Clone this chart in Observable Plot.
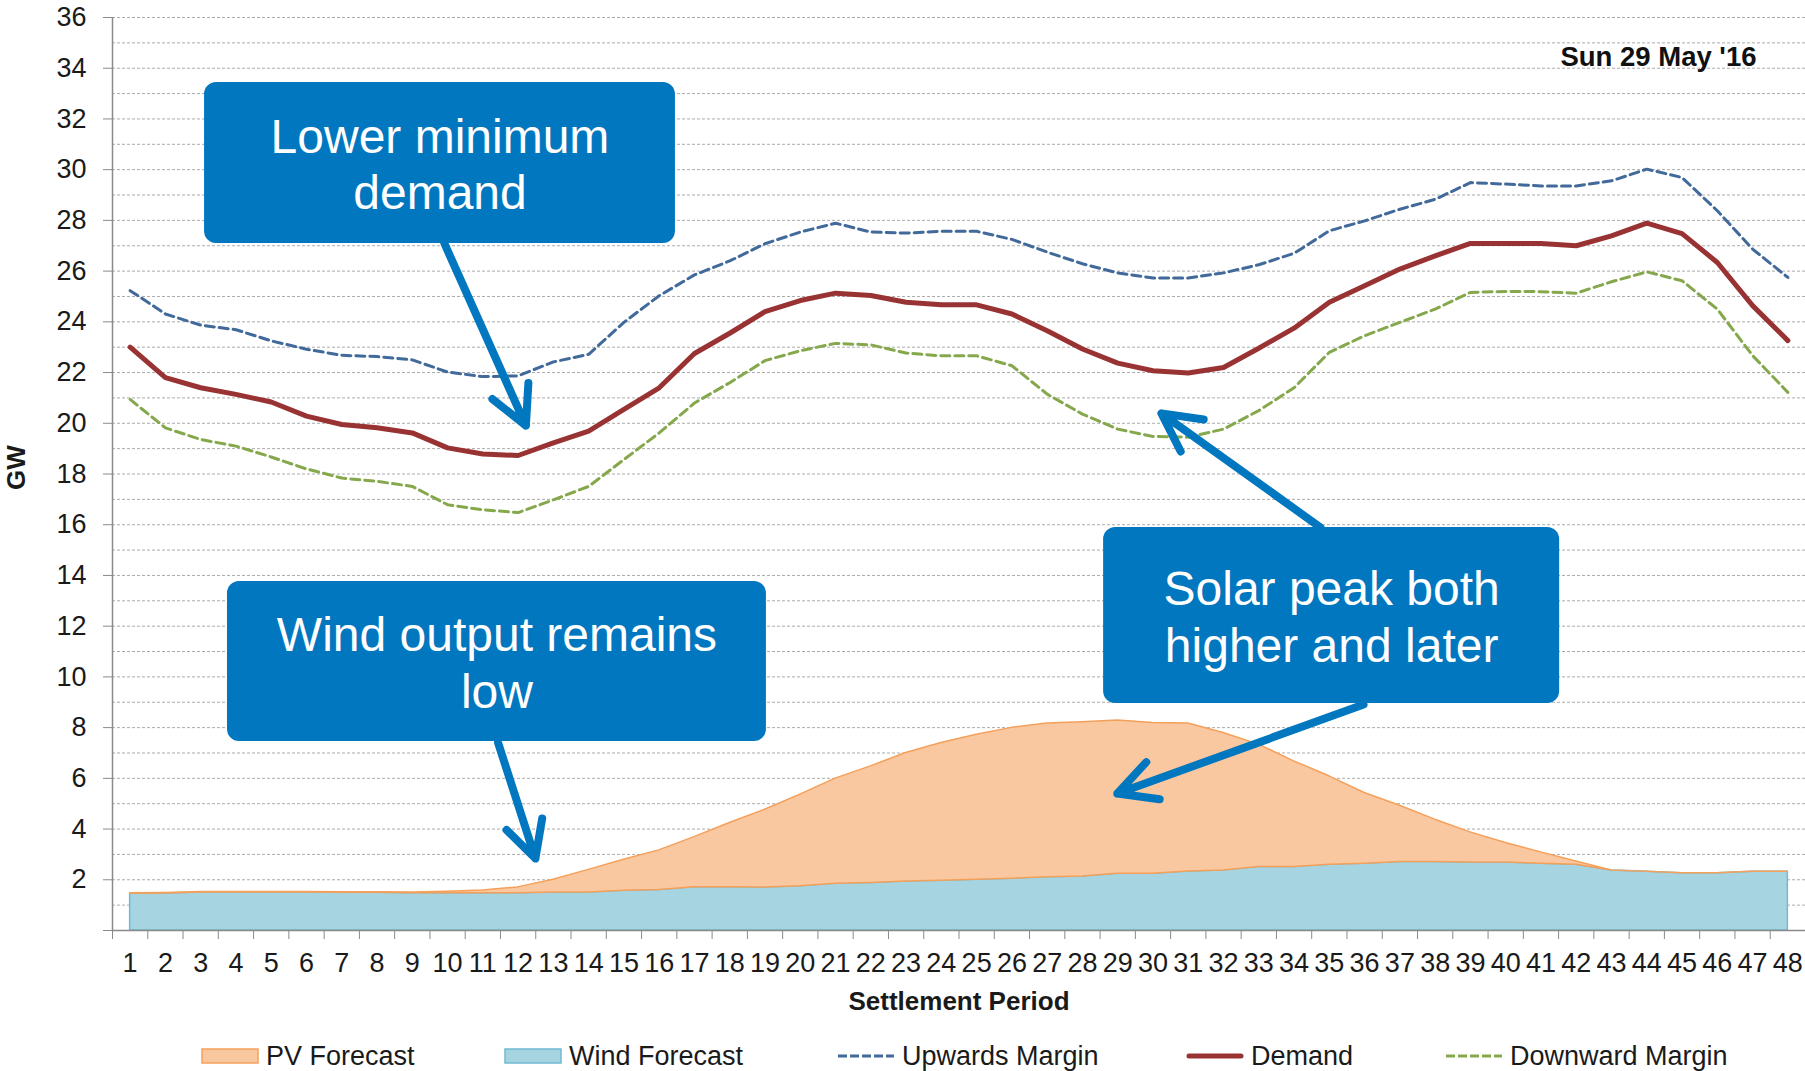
<!DOCTYPE html>
<html><head><meta charset="utf-8">
<script src="https://cdn.jsdelivr.net/npm/d3@7"></script>
<script src="https://cdn.jsdelivr.net/npm/@observablehq/plot@0.6"></script>
<style>
html,body{margin:0;padding:0;background:#fff;}
#wrap{position:relative;width:1805px;height:1071px;font-family:"Liberation Sans",Arial,sans-serif;overflow:hidden;}
.leg{position:absolute;top:1038px;height:36px;display:flex;align-items:center;font-size:27px;color:#1a1a1a;white-space:nowrap;}
.leg svg{margin-right:7px;}
</style></head><body><div id="wrap"></div><script>
// ---- data ----
const periods = [1,2,3,4,5,6,7,8,9,10,11,12,13,14,15,16,17,18,19,20,21,22,23,24,25,26,27,28,29,30,31,32,33,34,35,36,37,38,39,40,41,42,43,44,45,46,47,48];
const windForecast = [1.45,1.46,1.5,1.5,1.5,1.5,1.49,1.49,1.47,1.47,1.47,1.47,1.5,1.5,1.57,1.6,1.71,1.71,1.7,1.74,1.84,1.87,1.93,1.96,2.0,2.04,2.1,2.13,2.24,2.24,2.33,2.37,2.5,2.5,2.59,2.63,2.7,2.7,2.68,2.68,2.63,2.59,2.37,2.32,2.26,2.26,2.32,2.32];
const pvForecast = [0.02,0.02,0.02,0.02,0.02,0.02,0.02,0.02,0.03,0.06,0.11,0.23,0.5,0.89,1.22,1.56,1.97,2.53,3.06,3.62,4.15,4.6,5.07,5.43,5.72,5.95,6.06,6.08,6.04,5.94,5.83,5.42,4.83,4.17,3.49,2.79,2.22,1.67,1.19,0.77,0.45,0.13,0,0,0,0,0,0];
const upwardsMargin = [25.23,24.31,23.87,23.69,23.25,22.92,22.68,22.63,22.5,22.02,21.84,21.87,22.42,22.72,23.98,25.03,25.85,26.4,27.08,27.54,27.89,27.54,27.5,27.57,27.57,27.25,26.75,26.29,25.93,25.73,25.73,25.93,26.25,26.7,27.59,27.98,28.44,28.83,29.49,29.43,29.36,29.36,29.56,30.02,29.69,28.38,26.87,25.75];
const demand = [23.0,21.8,21.4,21.14,20.84,20.28,19.95,19.82,19.62,19.03,18.79,18.73,19.23,19.69,20.55,21.4,22.75,23.55,24.4,24.84,25.13,25.04,24.77,24.67,24.67,24.31,23.65,22.93,22.37,22.07,21.98,22.2,22.96,23.75,24.77,25.42,26.08,26.6,27.09,27.09,27.09,27.0,27.39,27.89,27.48,26.34,24.64,23.26];
const downwardMargin = [20.94,19.82,19.36,19.1,18.67,18.2,17.84,17.71,17.51,16.79,16.59,16.48,16.98,17.51,18.57,19.62,20.8,21.6,22.47,22.86,23.15,23.09,22.77,22.66,22.66,22.27,21.15,20.36,19.77,19.48,19.45,19.77,20.5,21.4,22.8,23.45,23.98,24.5,25.16,25.2,25.19,25.13,25.58,25.97,25.62,24.5,22.67,21.22];
const yTickLabels = [2,4,6,8,10,12,14,16,18,20,22,24,26,28,30,32,34,36];
const seriesNames = ["PV Forecast","Wind Forecast","Upwards Margin","Demand","Downward Margin"];
const dateLabel = "Sun 29 May '16";
const xLabel = "Settlement Period";
const yLabel = "GW";

// annotation boxes and arrows (in data units)
const boxes = [
  {text:"Lower minimum\ndemand", x1:3.11, x2:16.46, y1:27.09, y2:33.44},
  {text:"Wind output remains\nlow", x1:3.76, x2:19.04, y1:7.45, y2:13.76},
  {text:"Solar peak both\nhigher and later", x1:28.6, x2:41.53, y1:8.95, y2:15.89}
];
const arrows = [
  {x1:9.91, y1:27.09, x2:12.22, y2:19.91},
  {x1:11.43, y1:7.41, x2:12.49, y2:2.84},
  {x1:34.75, y1:15.89, x2:30.24, y2:20.39},
  {x1:35.97, y1:8.91, x2:28.99, y2:5.40}
];

// ---- styles ----
const C = {
  pvFill:"#f9c8a0", pvStroke:"#f5a05a",
  windFill:"#a7d4e1", windStroke:"#6fbbcf",
  up:"#41699a", demand:"#993333", down:"#86a84c",
  box:"#0177bf", axis:"#8a8a8a", grid:"#ababab", text:"#1a1a1a"
};
const FONT = '"Liberation Sans", Arial, sans-serif';

const rows = periods.map((p,i)=>({period:p, pv:pvForecast[i], wind:windForecast[i], up:upwardsMargin[i], demand:demand[i], down:downwardMargin[i]}));
const bounds = periods.map(p => p - 0.5);
const gridTicks = d3.range(1, 37);

const chart = Plot.plot({
  width: 1805, height: 1022,
  marginLeft: 112, marginRight: 0, marginTop: 17, marginBottom: 92,
  style: {fontFamily: FONT, background: "#fff", overflow: "visible"},
  x: {domain: [0.5, 48.5]},
  y: {domain: [0, 36]},
  marks: [
    Plot.gridY({ticks: gridTicks, stroke: C.grid, strokeOpacity: 1, strokeDasharray: "3,2"}),
    Plot.areaY(rows, {x: "period", y1: 0, y2: "wind", fill: C.windFill, stroke: C.windStroke, strokeWidth: 1.5}),
    Plot.areaY(rows, {x: "period", y1: "wind", y2: d => d.wind + d.pv, fill: C.pvFill, stroke: C.pvStroke, strokeWidth: 1.5}),
    Plot.line(rows, {x: "period", y: "up", stroke: C.up, strokeWidth: 3, strokeDasharray: "9,5"}),
    Plot.line(rows, {x: "period", y: "down", stroke: C.down, strokeWidth: 3, strokeDasharray: "9,5"}),
    Plot.line(rows, {x: "period", y: "demand", stroke: C.demand, strokeWidth: 5, strokeLinecap: "round", strokeLinejoin: "round"}),
    Plot.axisY({ticks: yTickLabels, tickSize: 9, tickPadding: 17, fontSize: 27, stroke: C.axis, fill: C.text, label: null}),
    Plot.axisY({ticks: [0], tickSize: 9, tickFormat: () => "", stroke: C.axis, label: null}),
    Plot.axisX({ticks: periods, tickSize: 0, tickPadding: 22, fontSize: 27, fill: C.text, label: null}),
    Plot.axisX({ticks: bounds, tickSize: 9, tickFormat: () => "", stroke: C.axis, label: null}),
    Plot.ruleX([0.5], {y1: 0, y2: 36, stroke: C.axis, strokeWidth: 1.5}),
    Plot.ruleY([0], {stroke: C.axis, strokeWidth: 1.5}),
    Plot.text([yLabel], {frameAnchor: "left", dx: -96, dy: 16, rotate: -90, fontWeight: "bold", fontSize: 26, fill: C.text}),
    Plot.text([xLabel], {frameAnchor: "bottom", dy: 79, fontWeight: "bold", fontSize: 26, fill: C.text}),
    Plot.text([dateLabel], {frameAnchor: "top-right", dx: -49, dy: 29, textAnchor: "end", fontWeight: "bold", fontSize: 27.5, fill: "#111"}),
    Plot.rect(boxes, {x1: "x1", x2: "x2", y1: "y1", y2: "y2", fill: C.box, rx: 12}),
    Plot.arrow(arrows, {x1: "x1", y1: "y1", x2: "x2", y2: "y2", stroke: C.box, strokeWidth: 8, headAngle: 55, headLength: 8, strokeLinecap: "round", strokeLinejoin: "round"}),
    Plot.text(boxes, {x: d => (d.x1 + d.x2) / 2, y: d => (d.y1 + d.y2) / 2, text: "text", fill: "white", fontSize: 48, lineHeight: 1.17, textAnchor: "middle", lineAnchor: "middle"})
  ]
});
const wrap = document.getElementById("wrap");
wrap.appendChild(chart);

// ---- legend ----
const legendLeft = [201, 504, 837, 1186, 1445];
function swatch(i){
  const w = 58, h = 20;
  if (i === 0) return `<svg width="${w}" height="${h}"><rect x="1" y="3" width="${w-2}" height="14" fill="${C.pvFill}" stroke="${C.pvStroke}" stroke-width="1.5"/></svg>`;
  if (i === 1) return `<svg width="${w}" height="${h}"><rect x="1" y="3" width="${w-2}" height="14" fill="${C.windFill}" stroke="${C.windStroke}" stroke-width="1.5"/></svg>`;
  if (i === 2) return `<svg width="${w}" height="${h}"><line x1="1" y1="10" x2="${w-1}" y2="10" stroke="${C.up}" stroke-width="3" stroke-dasharray="9,3"/></svg>`;
  if (i === 3) return `<svg width="${w}" height="${h}"><line x1="3" y1="10" x2="${w-3}" y2="10" stroke="${C.demand}" stroke-width="5" stroke-linecap="round"/></svg>`;
  return `<svg width="${w}" height="${h}"><line x1="1" y1="10" x2="${w-1}" y2="10" stroke="${C.down}" stroke-width="3" stroke-dasharray="9,3"/></svg>`;
}
seriesNames.forEach((name, i) => {
  const d = document.createElement("div");
  d.className = "leg";
  d.style.left = legendLeft[i] + "px";
  d.innerHTML = swatch(i) + `<span>${name}</span>`;
  wrap.appendChild(d);
});
</script></body></html>
